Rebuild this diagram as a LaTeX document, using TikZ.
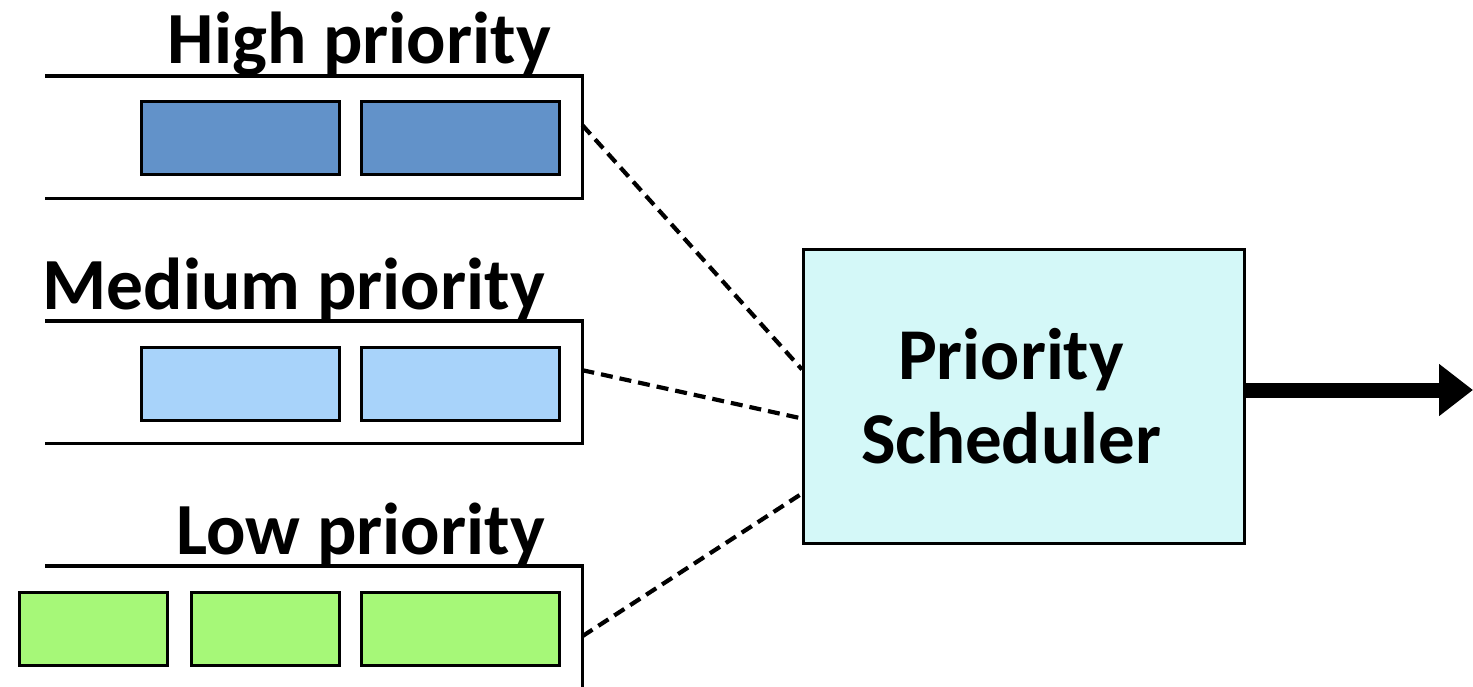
\documentclass[tikz,border=0pt]{standalone}
\usepackage{fontspec}
\setmainfont{Carlito}
\usetikzlibrary{calc,arrows.meta}
\definecolor{hiblue}{HTML}{6292C9}
\definecolor{medblue}{HTML}{A8D3FA}
\definecolor{lowgreen}{HTML}{A6F878}
\definecolor{schcyan}{HTML}{D4F8F8}
\tikzset{
  item/.style={draw=black, line width=3.2pt, minimum height=73pt, inner sep=0pt, anchor=north west},
  queue/.style={inner sep=0pt, minimum height=122pt, anchor=north west},
  qline/.style={line width=3.2pt, line join=miter},
  label/.style={font=\fontsize{73.5}{86}\selectfont\bfseries, inner sep=0pt},
  conn/.style={line width=4.2pt, dash pattern=on 12pt off 7pt},
}
\begin{document}
\begin{tikzpicture}[x=1pt,y=-1pt]
\useasboundingbox (0,0) rectangle (1473,687);
% queues
\node[queue, minimum width=537pt] (q1) at (45,76) {};
\node[queue, minimum width=537pt] (q2) at (45,321) {};
\node[queue, minimum width=537pt] (q3) at (45,566) {};
\foreach \q in {q1,q2,q3}{
  \draw[qline] (\q.north west) -- (\q.north east) -- (\q.south east) -- (\q.south west);
}
% labels
\node[label, anchor=base east] (lh) at (551,64) {High priority};
\node[label, anchor=base east] (lm) at (545,309) {Medium priority};
\node[label, anchor=base east] (ll) at (545,554) {Low priority};
% items
\node[item, fill=hiblue, minimum width=198pt] (h1) at (140,100) {};
\node[item, fill=hiblue, minimum width=198pt] (h2) at (360,100) {};
\node[item, fill=medblue, minimum width=198pt] (m1) at (140,346) {};
\node[item, fill=medblue, minimum width=198pt] (m2) at (360,346) {};
\node[item, fill=lowgreen, minimum width=148pt] (l1) at (18,591) {};
\node[item, fill=lowgreen, minimum width=148pt] (l2) at (190,591) {};
\node[item, fill=lowgreen, minimum width=198pt] (l3) at (360,591) {};
% scheduler
\node[draw=black, line width=3pt, fill=schcyan, minimum width=441pt, minimum height=294pt,
      anchor=north west, inner sep=0pt, align=center,
      font=\fontsize{73}{84}\selectfont\bfseries] (sch) at (802,248)
      {Priority\hspace*{26pt}\\Scheduler\hspace*{26pt}};
% connectors
\draw[conn] ($(q1.east)+(0,-12)$) -- ($(sch.west)+(0,-27)$);
\draw[conn] ($(q2.east)+(0,-12)$) -- ($(sch.west)+(0,22)$);
\draw[conn] ($(q3.east)+(0,9)$) -- ($(sch.west)+(0,97)$);
\coordinate (out) at (1473,390);
\draw[line width=15pt, -{Triangle[length=34pt,width=50pt]}] (sch.east |- out) -- (out);
\end{tikzpicture}
\end{document}
